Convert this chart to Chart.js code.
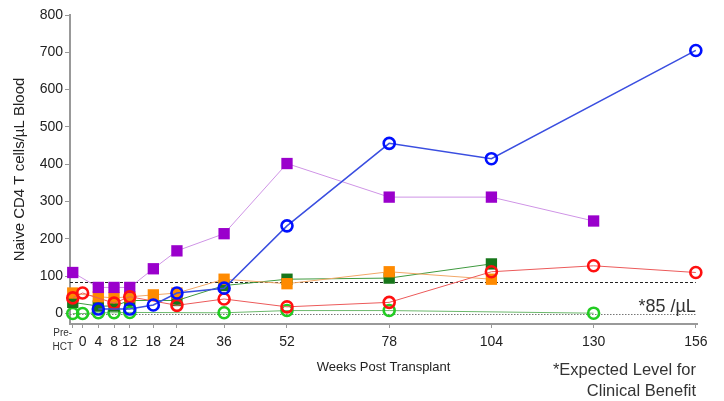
<!DOCTYPE html>
<html>
<head>
<meta charset="utf-8">
<script src="https://cdn.jsdelivr.net/npm/chart.js@4"></script>
<style>
  html, body { margin: 0; padding: 0; background: #fff; }
</style>
</head>
<body>
<canvas id="c" width="724" height="401"></canvas>
<script>
// Weeks after transplant; Pre-HCT sits just left of week 0
const tickWeeks  = [-2.5, 0, 4, 8, 12, 18, 24, 36, 52, 78, 104, 130, 156];
const tickLabels = ['', '0', '4', '8', '12', '18', '24', '36', '52', '78', '104', '130', '156'];
const yTicks = [0, 100, 200, 300, 400, 500, 600, 700, 800];
const clinicalLevel = 85;

// Naive CD4 T cells per µL, one patient per series
const blueWeeks = [4, 12, 18, 24, 36, 52, 78, 104, 156];
const blueVals  = [12, 12, 23, 55, 68, 235, 456, 415, 705];

const redWeeks = [-2.5, 0, 8, 12, 24, 36, 52, 78, 104, 130, 156];
const redVals  = [42, 55, 28, 45, 22, 39, 18, 30, 112, 128, 110];

const purpleWeeks = [-2.5, 4, 8, 12, 18, 24, 36, 52, 78, 104, 130];
const purpleVals  = [110, 70, 70, 70, 120, 168, 214, 402, 312, 312, 248];

const orangeWeeks = [-2.5, 4, 8, 12, 18, 24, 36, 52, 78, 104];
const orangeVals  = [55, 45, 42, 45, 50, 55, 92, 80, 112, 92];

const darkGreenWeeks = [-2.5, 4, 8, 12, 24, 36, 52, 78, 104];
const darkGreenVals  = [30, 20, 20, 35, 35, 75, 92, 95, 133];

const greenWeeks = [-2.5, 0, 4, 8, 12, 36, 52, 78, 130];
const greenVals  = [0, 0, 2, 2, 3, 2, 8, 8, 1];

const pts = (w, v) => w.map((x, i) => ({ x, y: v[i] }));

const circleSeries = (w, v, line, mark, lw) => ({
  data: pts(w, v),
  clip: false,
  borderColor: line,
  borderWidth: lw,
  pointStyle: 'circle',
  pointRadius: 5.5,
  pointBorderWidth: 2.6,
  pointBorderColor: mark,
  pointBackgroundColor: 'rgba(0,0,0,0)',
  tension: 0
});
const squareSeries = (w, v, line, mark) => ({
  data: pts(w, v),
  clip: false,
  borderColor: line,
  borderWidth: 1,
  pointStyle: 'rect',
  pointRadius: 8,
  pointBorderWidth: 0,
  pointBorderColor: mark,
  pointBackgroundColor: mark,
  tension: 0
});

// first dataset is painted last (on top)
const datasets = [
  circleSeries(blueWeeks, blueVals, '#3a4ee0', '#0010ff', 1.5),
  circleSeries(redWeeks, redVals, '#ec5a5a', '#ff1010', 1),
  squareSeries(purpleWeeks, purpleVals, '#cf94e6', '#9a00cc'),
  squareSeries(orangeWeeks, orangeVals, '#f2a868', '#ff8a00'),
  squareSeries(darkGreenWeeks, darkGreenVals, '#3f9a3f', '#17761a'),
  circleSeries(greenWeeks, greenVals, '#6cb86c', '#22cc22', 1)
];

const FONT = "'Liberation Sans', Arial, sans-serif";

const overlay = {
  id: 'overlay',
  beforeDatasetsDraw(chart) {
    const { ctx, scales: { x, y } } = chart;
    const x0 = x.left, x1 = x.getPixelForValue(156);
    ctx.save();
    ctx.lineWidth = 1;
    // threshold line
    ctx.strokeStyle = '#222';
    ctx.setLineDash([3, 2]);
    const yl = Math.round(y.getPixelForValue(clinicalLevel)) + 0.5;
    ctx.beginPath(); ctx.moveTo(x0, yl); ctx.lineTo(x1, yl); ctx.stroke();
    // zero line
    ctx.strokeStyle = '#777';
    ctx.setLineDash([1.5, 1.5]);
    const y0 = Math.round(y.getPixelForValue(0)) + 0.5;
    ctx.beginPath(); ctx.moveTo(x0, y0); ctx.lineTo(x1, y0); ctx.stroke();
    ctx.restore();
  },
  afterDraw(chart) {
    const { ctx, scales: { x, y } } = chart;
    ctx.save();
    ctx.fillStyle = '#333';
    ctx.textBaseline = 'middle';
    // threshold label
    ctx.textAlign = 'right';
    ctx.font = '18px ' + FONT;
    ctx.fillText('*85 /\u00B5L', x.getPixelForValue(156), y.getPixelForValue(clinicalLevel) + 25);
    // footnote
    ctx.font = '16.5px ' + FONT;
    ctx.fillText('*Expected Level for', 696, 370);
    ctx.fillText('Clinical Benefit', 696, 391);
    // Pre-HCT label
    ctx.textAlign = 'center';
    ctx.font = '10px ' + FONT;
    const px = x.getPixelForValue(-2.5) - 10;
    ctx.fillText('Pre-', px, 333);
    ctx.fillText('HCT', px, 347);
    ctx.restore();
  }
};

new Chart(document.getElementById('c'), {
  type: 'line',
  data: { datasets },
  plugins: [overlay],
  options: {
    responsive: false,
    animation: false,
    layout: { padding: { top: 15, right: 27, left: 0, bottom: 0 } },
    plugins: { legend: { display: false }, tooltip: { enabled: false } },
    scales: {
      x: {
        type: 'linear',
        min: -3.2,
        max: 156.3,
        afterFit(s) { s.height = 77; },
        afterBuildTicks(s) { s.ticks = tickWeeks.map(v => ({ value: v })); },
        border: { display: true, color: '#999', width: 2 },
        grid: { display: true, drawOnChartArea: false, drawTicks: true, tickLength: 4, color: '#999' },
        ticks: {
          autoSkip: false, maxRotation: 0, minRotation: 0, padding: 6,
          color: '#222', font: { family: FONT, size: 14 },
          callback: (v, i) => tickLabels[i]
        },
        title: {
          display: true, text: 'Weeks Post Transplant', color: '#222',
          font: { family: FONT, size: 13 }, padding: { top: 4, bottom: 26 }
        }
      },
      y: {
        type: 'linear',
        min: -28,
        max: 800,
        afterFit(s) { s.width = 70; },
        afterBuildTicks(s) { s.ticks = yTicks.map(v => ({ value: v })); },
        border: { display: true, color: '#999', width: 2 },
        grid: { display: true, drawOnChartArea: false, drawTicks: true, tickLength: 5, color: '#999' },
        ticks: { padding: 2, color: '#222', font: { family: FONT, size: 14 } },
        title: {
          display: true, text: 'Naive CD4 T cells/\u00B5L Blood', color: '#222',
          font: { family: FONT, size: 15 }, padding: { top: 11, bottom: 0 }
        }
      }
    }
  }
});
</script>
</body>
</html>
